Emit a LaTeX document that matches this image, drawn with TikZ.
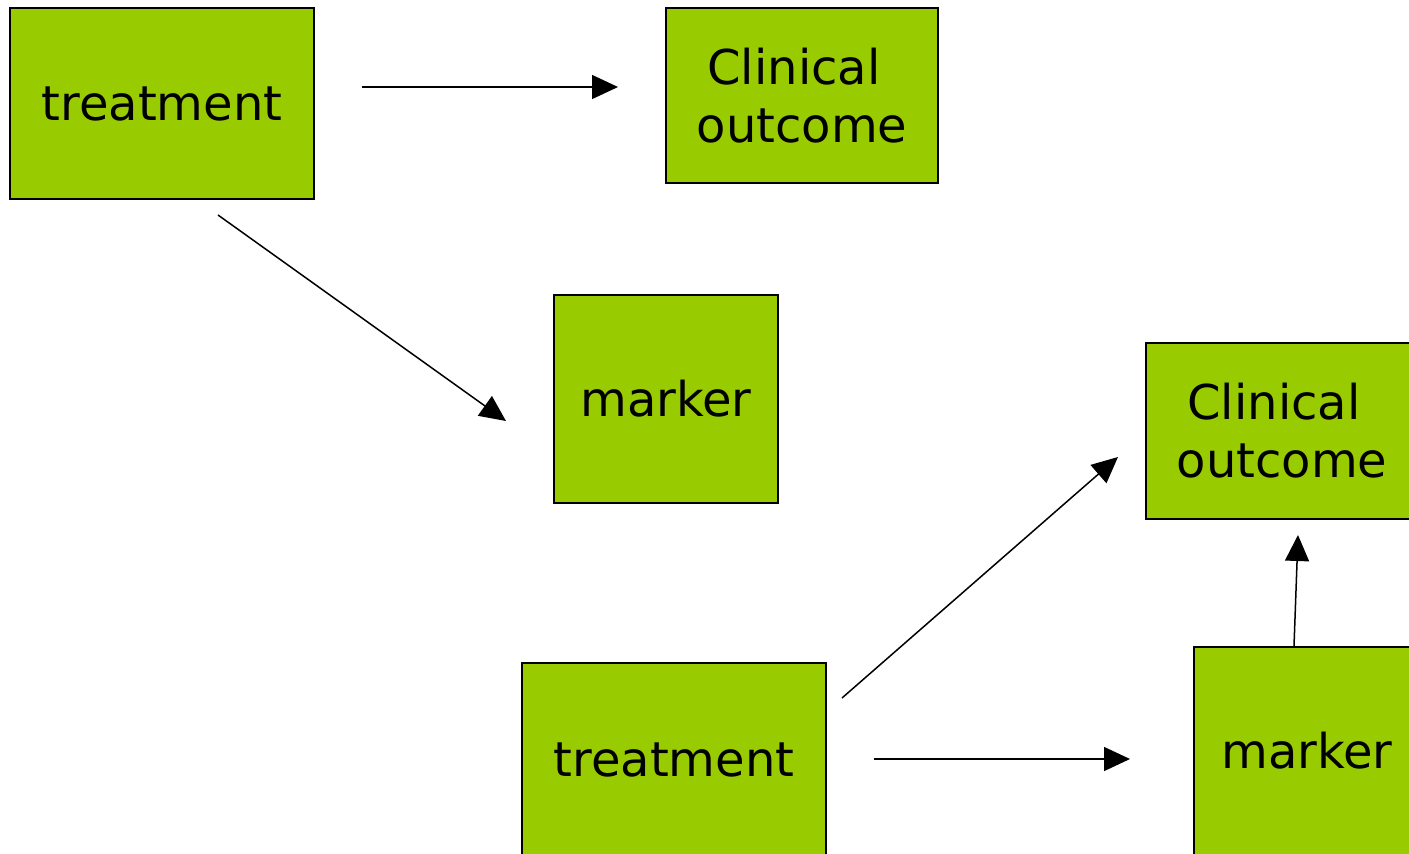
\documentclass[tikz,border=0pt]{standalone}
\usepackage{fontspec}
\setmainfont{DejaVu Sans}
\usetikzlibrary{arrows.meta}
\definecolor{boxgreen}{HTML}{99CC00}
\tikzset{
  box/.style={draw=black, line width=1.6pt, fill=boxgreen, inner sep=0pt, align=center,
    font=\fontsize{48}{58}\selectfont},
  link/.style={line width=1.5pt, -{Triangle[length=26pt,width=24pt]}}
}
\begin{document}
\begin{tikzpicture}[x=1pt,y=-1pt]
\useasboundingbox (0,0) rectangle (1409,854);
\clip (0,0) rectangle (1409,854);
\fill[white] (0,0) rectangle (1409,854);
\node[box, minimum width=304pt, minimum height=191pt] (t1) at (162,103.5) {treatment};
\node[box, minimum width=272pt, minimum height=175pt] (c1) at (802,95.5) {\mbox{Clinical\hspace{16pt}}\\outcome};
\node[box, minimum width=224pt, minimum height=208pt] (m1) at (666,399) {marker};
\node[box, minimum width=272pt, minimum height=176pt] (c2) at (1282,431) {\mbox{Clinical\hspace{16pt}}\\outcome};
\node[box, minimum width=304pt, minimum height=194pt] (t2) at (674,760) {treatment};
\node[box, minimum width=226pt, minimum height=208pt] (m2) at (1307,751) {marker};
\coordinate (a1) at (362,87);
\coordinate (a2) at (618,87);
\coordinate (b1) at (218,215);
\coordinate (b2) at (506,421);
\coordinate (c1s) at (842,698);
\coordinate (c1e) at (1118,457);
\coordinate (d1) at (874,759);
\coordinate (d2) at (1130,759);
\coordinate (e1) at (1294,646);
\coordinate (e2) at (1298,535);
\draw[link] (a1) -- (a2);
\draw[link] (b1) -- (b2);
\draw[link] (c1s) -- (c1e);
\draw[link] (d1) -- (d2);
\draw[link] (e1) -- (e2);
\end{tikzpicture}
\end{document}
